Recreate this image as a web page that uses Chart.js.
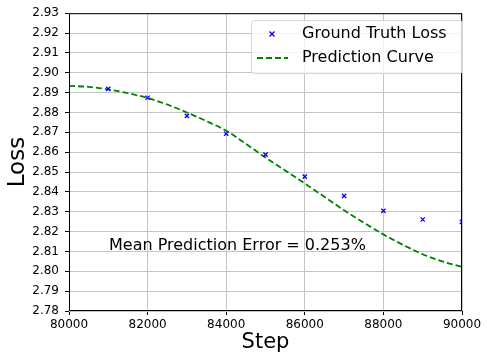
<!DOCTYPE html>
<html>
<head>
<meta charset="utf-8">
<script src="https://cdn.jsdelivr.net/npm/chart.js@4/dist/chart.umd.min.js"></script>
<style>
  html, body { margin: 0; padding: 0; background: #fff; }
  #wrap { width: 487px; height: 362px; }
</style>
</head>
<body>
<div id="wrap"><canvas id="loss" width="487" height="362"></canvas></div>
<script>
var truthSteps = [81000, 82000, 83000, 84000, 85000, 86000, 87000, 88000, 89000, 90000];
var truthLoss = [2.8919, 2.8874, 2.8783, 2.8693, 2.8588, 2.8477, 2.8380, 2.8304, 2.8261, 2.8249];

var curveSteps = [80000, 80500, 81000, 81500, 82000, 82500, 83000, 83500, 84000, 84500, 85000,
                  85500, 86000, 86500, 87000, 87500, 88000, 88500, 89000, 89500, 90000];
var curveLoss = [2.8934, 2.8929, 2.8916, 2.8897, 2.8873, 2.8840, 2.8800, 2.8756, 2.8708, 2.8642, 2.8573,
                 2.8508, 2.8442, 2.8375, 2.8307, 2.8245, 2.8186, 2.8133, 2.8086, 2.8050, 2.8022];

var xTicks = [80000, 82000, 84000, 86000, 88000, 90000];
var yTicks = [2.78, 2.79, 2.80, 2.81, 2.82, 2.83, 2.84, 2.85, 2.86, 2.87, 2.88, 2.89, 2.90, 2.91, 2.92, 2.93];

var errorText = 'Mean Prediction Error = 0.253%';
var font = 'DejaVu Sans';

function pts(xs, ys) {
    return xs.map(function (x, i) { return { x: x, y: ys[i] }; });
}

// frame, annotation text and legend box
var extras = {
    id: 'extras',
    afterDatasetsDraw: function (chart) {
        var c = chart.ctx, a = chart.chartArea;
        c.save();
        c.strokeStyle = '#000';
        c.lineWidth = 1;
        c.strokeRect(a.left + 0.5, a.top + 0.5, a.right - a.left - 1, a.bottom - a.top - 1);

        c.fillStyle = '#000';
        c.font = '16px "' + font + '"';
        c.textBaseline = 'middle';
        c.textAlign = 'left';
        c.fillText(errorText, 109, 246);

        // legend
        var lx = 251, ly = 20, lw = 211, lh = 53;
        c.beginPath();
        if (c.roundRect) c.roundRect(lx + 0.5, ly + 0.5, lw, lh, 3); else c.rect(lx + 0.5, ly + 0.5, lw, lh);
        c.fillStyle = 'rgba(255,255,255,0.8)';
        c.fill();
        c.strokeStyle = '#d6d6d6';
        c.stroke();

        c.strokeStyle = '#0000ff';
        c.lineWidth = 1.3;
        var mx = 272, my = 34, r = 2.5;
        c.beginPath();
        c.moveTo(mx - r, my - r); c.lineTo(mx + r, my + r);
        c.moveTo(mx - r, my + r); c.lineTo(mx + r, my - r);
        c.stroke();

        c.strokeStyle = '#008000';
        c.lineWidth = 1.8;
        c.setLineDash([6, 3]);
        c.beginPath();
        c.moveTo(257, 58); c.lineTo(288, 58);
        c.stroke();
        c.setLineDash([]);

        c.fillStyle = '#000';
        c.font = '16px "' + font + '"';
        c.fillText('Ground Truth Loss', 302, 34);
        c.fillText('Prediction Curve', 302, 58);
        c.restore();
    }
};

var ctx = document.getElementById('loss').getContext('2d');

var lossChart = new Chart(ctx, {
    type: 'scatter',
    data: {
        datasets: [{
            label: 'Ground Truth Loss',
            data: pts(truthSteps, truthLoss),
            pointStyle: 'crossRot',
            pointRadius: 3,
            borderColor: '#0000ff',
            backgroundColor: '#0000ff',
            borderWidth: 1.3,
            showLine: false
        }, {
            label: 'Prediction Curve',
            data: pts(curveSteps, curveLoss),
            showLine: true,
            borderColor: '#008000',
            borderWidth: 1.8,
            borderDash: [6, 3],
            pointRadius: 0,
            cubicInterpolationMode: 'monotone',
            fill: false
        }]
    },
    options: {
        responsive: false,
        animation: false,
        events: [],
        layout: { padding: { top: 12, right: 25, left: 0, bottom: 0 } },
        plugins: { legend: { display: false }, tooltip: { enabled: false } },
        scales: {
            x: {
                type: 'linear',
                min: 80000,
                max: 90000,
                afterFit: function (s) { s.height = 51; },
                afterBuildTicks: function (s) { s.ticks = xTicks.map(function (v) { return { value: v }; }); },
                grid: { color: '#c4c4c4', lineWidth: 1, tickColor: '#000', tickLength: 4 },
                border: { display: false },
                ticks: {
                    color: '#000',
                    font: { family: font, size: 12 },
                    padding: 3,
                    maxRotation: 0,
                    callback: function (v) { return String(v); }
                },
                title: {
                    display: true,
                    text: 'Step',
                    color: '#000',
                    font: { family: font, size: 21 },
                    padding: { top: 2, bottom: 7 }
                }
            },
            y: {
                type: 'linear',
                min: 2.78,
                max: 2.93,
                afterFit: function (s) { s.width = 69; },
                afterBuildTicks: function (s) { s.ticks = yTicks.map(function (v) { return { value: v }; }); },
                grid: { color: '#c4c4c4', lineWidth: 1, tickColor: '#000', tickLength: 4 },
                border: { display: false },
                ticks: {
                    color: '#000',
                    font: { family: font, size: 12 },
                    padding: 6,
                    callback: function (v) { return Number(v).toFixed(2); }
                },
                title: {
                    display: true,
                    text: 'Loss',
                    color: '#000',
                    font: { family: font, size: 23 },
                    padding: { top: 4, bottom: 4 }
                }
            }
        }
    },
    plugins: [extras]
});
</script>
</body>
</html>
